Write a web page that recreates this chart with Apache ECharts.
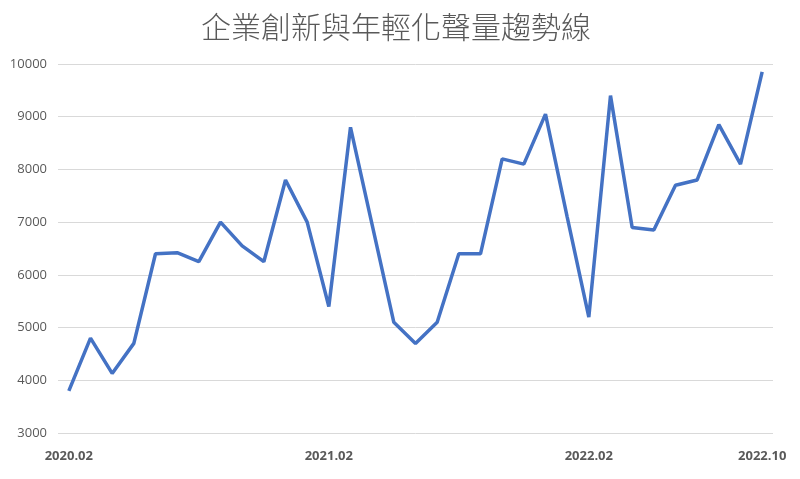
<!DOCTYPE html>
<html>
<head>
<meta charset="utf-8">
<script src="https://cdn.jsdelivr.net/npm/echarts@6/dist/echarts.min.js"></script>
<style>
  html, body { margin: 0; padding: 0; background: #fff; }
  #main { width: 800px; height: 479px; }
</style>
</head>
<body>
<div id="main"></div>
<script>
// 月份 2020.02 - 2022.10
var months = [
  '2020.02', '2020.03', '2020.04', '2020.05', '2020.06', '2020.07', '2020.08', '2020.09', '2020.10', '2020.11', '2020.12',
  '2021.01', '2021.02', '2021.03', '2021.04', '2021.05', '2021.06', '2021.07', '2021.08', '2021.09', '2021.10', '2021.11', '2021.12',
  '2022.01', '2022.02', '2022.03', '2022.04', '2022.05', '2022.06', '2022.07', '2022.08', '2022.09', '2022.10'
];
var volume = [
  3800, 4800, 4130, 4700, 6400, 6420, 6250, 7000, 6550, 6250, 7800,
  7000, 5400, 8800, 6950, 5100, 4700, 5100, 6400, 6400, 8200, 8100, 9050,
  7100, 5200, 9400, 6900, 6850, 7700, 7800, 8850, 8100, 9850
];
var shownLabels = ['2020.02', '2021.02', '2022.02', '2022.10'];

var chart = echarts.init(document.getElementById('main'));
var option = {
  backgroundColor: '#ffffff',
  title: {
    text: '企業創新與年輕化聲量趨勢線',
    left: 196,
    top: 7,
    textStyle: {
      fontFamily: 'Noto Sans CJK TC',
      fontWeight: 300,
      fontSize: 30,
      color: '#595959'
    }
  },
  grid: { left: 58, right: 27, top: 64, bottom: 46 },
  xAxis: {
    type: 'category',
    data: months,
    boundaryGap: true,
    axisLine: { show: false },
    axisTick: { show: false },
    axisLabel: {
      interval: 0,
      formatter: function (v) { return shownLabels.indexOf(v) >= 0 ? v : ''; },
      color: '#595959',
      fontWeight: 'bold',
      fontSize: 13,
      fontFamily: 'Open Sans',
      margin: 17
    }
  },
  yAxis: {
    type: 'value',
    min: 3000,
    max: 10000,
    interval: 1000,
    axisLabel: {
      formatter: function (v) { return String(v); },
      color: '#595959',
      fontSize: 13,
      fontFamily: 'Open Sans',
      margin: 11
    },
    splitLine: { lineStyle: { color: '#d9d9d9', width: 1 } }
  },
  series: [
    {
      name: '聲量',
      type: 'line',
      data: volume,
      showSymbol: false,
      lineStyle: { color: '#4472C4', width: 3.5 },
      itemStyle: { color: '#4472C4' }
    }
  ]
};
chart.setOption(option);
</script>
</body>
</html>
